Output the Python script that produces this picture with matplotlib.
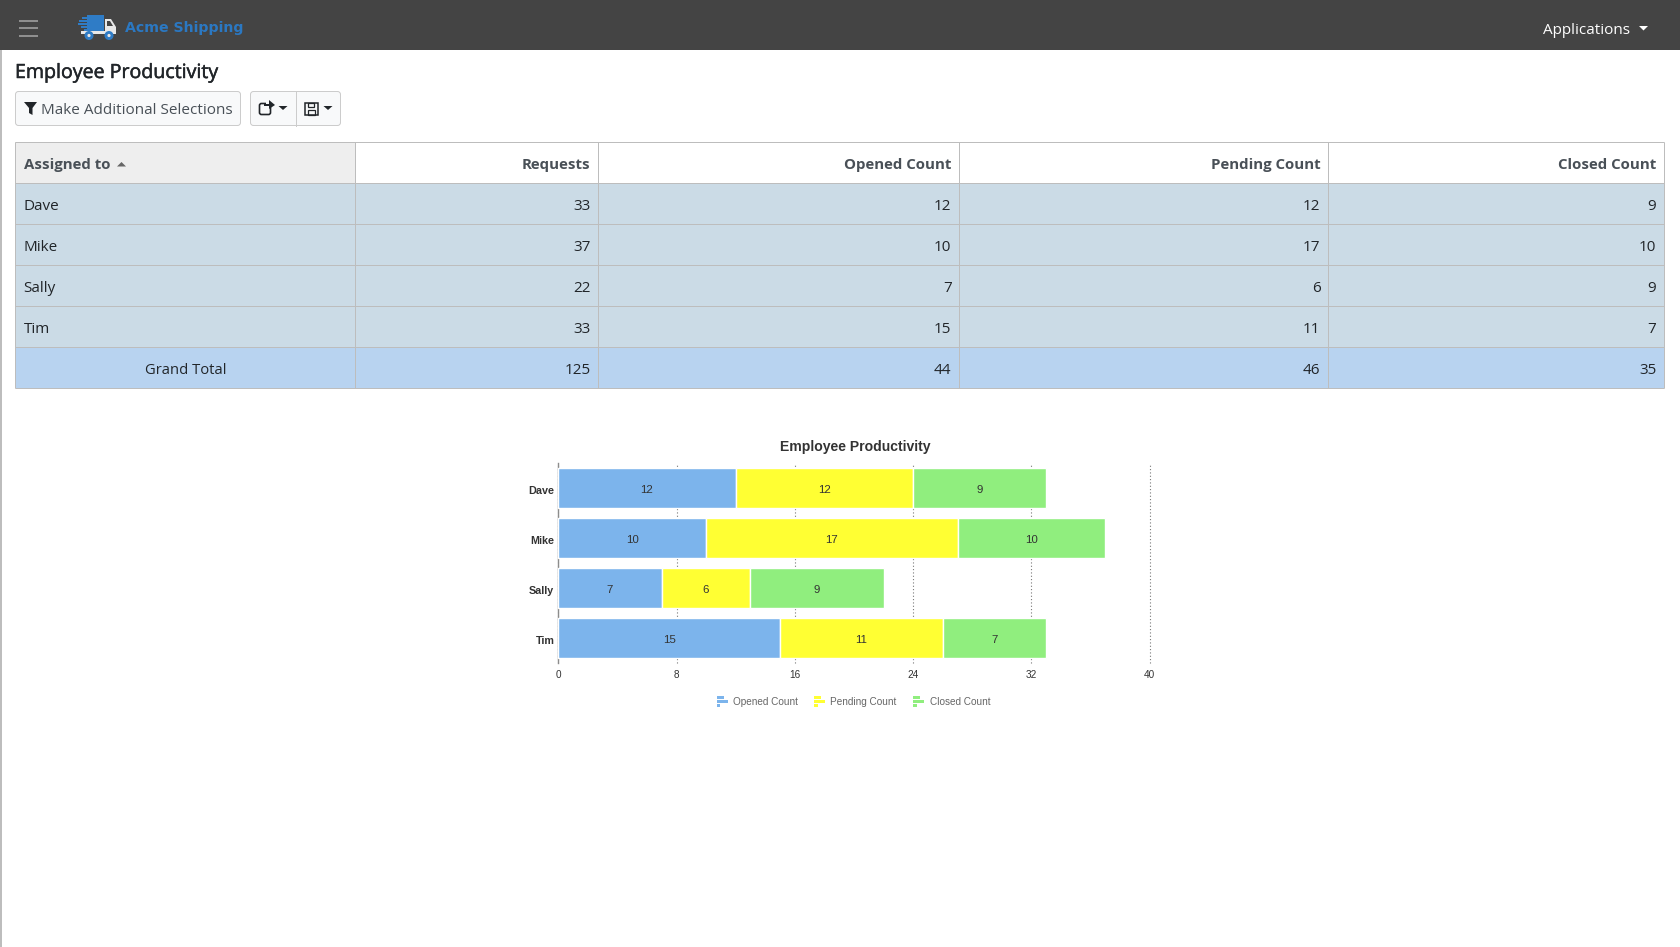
#Import packages
import matplotlib
matplotlib.use('Agg')
import matplotlib.pyplot as plt
import matplotlib.patheffects as pe
from matplotlib.patches import Rectangle, FancyBboxPatch, Polygon, Circle
from matplotlib.transforms import ScaledTranslation

# Chart and table values
employees = ['Dave', 'Mike', 'Sally', 'Tim']
requests = [33, 37, 22, 33]
opened = [12, 10, 7, 15]
pending = [12, 17, 6, 11]
closed = [9, 10, 9, 7]
totals = ['Grand Total', 125, 44, 46, 35]
columns = ['Assigned to', 'Requests', 'Opened Count', 'Pending Count', 'Closed Count']
x_ticks = [0, 8, 16, 24, 32, 40]
series_names = ['Opened Count', 'Pending Count', 'Closed Count']
series_colors = ['#7cb4ec', '#ffff33', '#90ee7e']

W, H = 1680, 947
UI_FONT = 'Open Sans'
CHART_FONT = 'Liberation Sans'

def px(size):
	return size * 0.72

fig = plt.figure(figsize=(W / 100, H / 100), dpi=100, facecolor='white')

# page layer, in screen pixels
page = fig.add_axes([0, 0, 1, 1])
page.set_xlim(0, W)
page.set_ylim(H, 0)
page.axis('off')

def label(x, y, s, size=15.2, color='#212529', ha='left', weight='normal', family=UI_FONT):
	return page.text(x, y, s, fontsize=px(size), color=color, ha=ha, va='center',
		fontweight=weight, family=family)

# top bar
page.add_patch(Rectangle((0, 0), W, 50, color='#444444', lw=0))
page.add_patch(Rectangle((0, 50), 1.5, H - 50, color='#bdbdbd', lw=0))
for y in [21, 28, 35.5]:
	page.add_patch(Rectangle((18.5, y - 1), 19, 2, color='#8f8f8f', lw=0))

# truck logo
page.add_patch(Rectangle((87, 15), 17, 18, color='#2f7cc6', lw=0))
for y, x0 in [(17, 82), (20, 79), (23, 78), (26, 81), (29, 84)]:
	page.add_patch(Rectangle((x0, y), 87 - x0, 1.5, color='#2f7cc6', lw=0))
page.add_patch(Polygon([(105, 19), (111, 19), (116, 27), (116, 34), (105, 34)], color='#e8e8e8', lw=0))
page.add_patch(Polygon([(107, 21), (110, 21), (113, 26), (107, 26)], color='#444444', lw=0))
page.add_patch(Rectangle((81, 31), 35, 3, color='#e8e8e8', lw=0))
for x in [89, 109]:
	page.add_patch(Circle((x, 35.5), 4.5, color='#2f7cc6', lw=0))
	page.add_patch(Circle((x, 35.5), 1.6, color='#e8e8e8', lw=0))
label(125, 28, 'Acme Shipping', size=14.1, color='#2b78c2', weight='bold', family='DejaVu Sans')

label(1543, 30.5, 'Applications', size=15.2, color='white')
page.add_patch(Polygon([(1639, 26), (1648, 26), (1643.5, 30.5)], color='white', lw=0))

# page title and buttons
title = label(15, 73, 'Employee Productivity', size=19.6, color='#212529')
title.set_path_effects([pe.withStroke(linewidth=0.35, foreground='#212529')])

def button(x0, x1):
	page.add_patch(FancyBboxPatch((x0 + 3, 94.5), x1 - x0 - 6, 28,
		boxstyle='round,pad=3,rounding_size=3', fc='#f8f9fa', ec='#cccccc', lw=0.72))

button(15.5, 240.5)
button(250.5, 340.5)
page.plot([295.5, 295.5], [91.5, 125.5], color='#cccccc', lw=0.72)
page.add_patch(Polygon([(24, 102), (37, 102), (32.5, 108), (32.5, 115), (29, 113), (29, 108)], color='#212529', lw=0))
label(41, 110, 'Make Additional Selections', size=15.25, color='#495057')
# share icon
page.add_patch(FancyBboxPatch((260, 104), 10, 10, boxstyle='round,pad=0.5,rounding_size=2',
	fc='none', ec='#212529', lw=1.2))
page.add_patch(Rectangle((266, 100), 8, 6, color='#f8f9fa', lw=0))
page.add_patch(Polygon([(269, 100), (275, 105), (269, 109)], color='#212529', lw=0))
page.add_patch(Rectangle((264, 104), 6, 2, color='#212529', lw=0))
# save icon
page.add_patch(Rectangle((305, 102.5), 12.5, 12.5, fc='none', ec='#212529', lw=1.1))
page.add_patch(Rectangle((307.5, 102.5), 6, 4, fc='none', ec='#212529', lw=0.9))
page.add_patch(Rectangle((307.5, 109.5), 7.5, 5.5, fc='none', ec='#212529', lw=0.9))
for x in [278.5, 323.5]:
	page.add_patch(Polygon([(x, 106), (x + 9, 106), (x + 4.5, 110)], color='#212529', lw=0))

# table
col_x = [14.5, 354.5, 597.5, 958.5, 1327.5, 1663.5]
row_y = [141.5, 182.5, 223.5, 264.5, 305.5, 346.5, 387.5]
ROW_BG = '#cbdbe6'
TOTAL_BG = '#b8d3f0'
GRID = '#bdbdbd'

page.add_patch(Rectangle((col_x[0], row_y[0]), col_x[1] - col_x[0], row_y[1] - row_y[0], color='#eeeeee', lw=0))
page.add_patch(Rectangle((col_x[0], row_y[1]), col_x[-1] - col_x[0], row_y[5] - row_y[1], color=ROW_BG, lw=0))
page.add_patch(Rectangle((col_x[0], row_y[5]), col_x[-1] - col_x[0], row_y[6] - row_y[5], color=TOTAL_BG, lw=0))
for y in row_y:
	page.plot([col_x[0], col_x[-1]], [y, y], color=GRID, lw=0.72, solid_capstyle='butt')
for x in col_x:
	page.plot([x, x], [row_y[0], row_y[-1]], color=GRID, lw=0.72, solid_capstyle='butt')

def row_mid(i):
	return (row_y[i] + row_y[i + 1]) / 2 + 3.5

PAD = 7

# header row
label(col_x[0] + 9, row_mid(0) - 1, columns[0], size=15, color='#495057', weight='bold')
page.add_patch(Polygon([(117, 166.5), (126, 166.5), (121.5, 162)], color='#666666', lw=0))
for i in range(1, 5):
	label(col_x[i + 1] - PAD, row_mid(0) - 1, columns[i], size=15, color='#495057', ha='right', weight='bold')

# body rows
rows = list(zip(employees, requests, opened, pending, closed))
for r, row in enumerate(rows):
	label(col_x[0] + 9, row_mid(r + 1), row[0])
	for i in range(1, 5):
		label(col_x[i + 1] - PAD, row_mid(r + 1), str(row[i]), ha='right')

# grand total row
label((col_x[0] + col_x[1]) / 2 + 1, row_mid(5), totals[0], size=14.7, ha='center')
for i in range(1, 5):
	label(col_x[i + 1] - PAD, row_mid(5), str(totals[i]), ha='right')

# chart
ax = fig.add_axes([558.2 / W, 1 - 663.2 / H, (1149.8 - 558.2) / W, 200 / H])
ax.set_facecolor('none')
ax.set_xlim(0, 40)
ax.set_ylim(3.5, -0.5)
left = [0, 0, 0, 0]
for vals, color in zip([opened, pending, closed], series_colors):
	bars = ax.barh(employees, vals, left=left, height=0.8, color=color, edgecolor='white', linewidth=1.0, zorder=3)
	for t in ax.bar_label(bars, labels=[str(v) for v in vals], label_type='center', fontsize=px(11.5),
		color='#333333', family=CHART_FONT):
		t.xyann = (0, -1)
	left = [a + b for a, b in zip(left, vals)]

ax.set_xticks(x_ticks)
ax.grid(axis='x', color='#777777', linestyle=(0, (1, 2)), linewidth=0.8, zorder=1)
ax.grid(axis='y', visible=False)
for line in ax.get_xgridlines():
	line.set_clip_on(False)
for side in ['top', 'right', 'bottom']:
	ax.spines[side].set_visible(False)
ax.spines['left'].set_color('#8c8c8c')
ax.spines['left'].set_linewidth(1)
ax.tick_params(axis='x', length=0, pad=4.7, labelsize=px(10), labelcolor='#333333')
ax.tick_params(axis='y', length=0, pad=2.8, labelsize=px(10.8), labelcolor='#333333')
for t in ax.get_xticklabels():
	t.set_family(CHART_FONT)
for t in ax.get_yticklabels():
	t.set_family(CHART_FONT)
	t.set_fontweight('bold')
	t.set_transform(t.get_transform() + ScaledTranslation(0, -1 / 72, fig.dpi_scale_trans))
page.text(855, 447, 'Employee Productivity', ha='center', va='center',
	fontsize=px(14), fontweight='bold', color='#333333', family=CHART_FONT)

# legend with little bar icons
for x0, name, color in zip([716.5, 814, 913], series_names, series_colors):
	for dy, w in [(-4, 7), (0, 11), (4, 3.5)]:
		page.add_patch(Rectangle((x0, 701.5 + dy - 1.3), w, 2.6, color=color, lw=0))
	label(x0 + 16.5, 702, name, size=10, color='#666666', family=CHART_FONT)

fig.savefig('out.png', dpi=100, facecolor='white')
